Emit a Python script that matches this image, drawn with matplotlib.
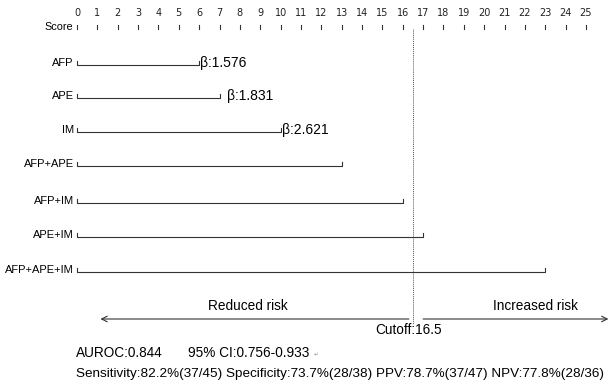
import matplotlib
matplotlib.use("Agg")
import matplotlib.pyplot as plt

plt.rcParams['font.family'] = ['Liberation Sans', 'DejaVu Sans']

# ---- data ----
score_ticks = list(range(0, 26))
rows = ["AFP", "APE", "IM", "AFP+APE", "AFP+IM", "APE+IM", "AFP+APE+IM"]
row_scores = [6, 7, 10, 13, 16, 17, 23]
beta_labels = ["β:1.576", "β:1.831", "β:2.621"]
cutoff = 16.5
auroc_text = "AUROC:0.844"
ci_text = "95% CI:0.756-0.933"
metrics_text = "Sensitivity:82.2%(37/45) Specificity:73.7%(28/38) PPV:78.7%(37/47) NPV:77.8%(28/36)"

# ---- layout ----
W, H = 611, 387
px_per_unit = (586 - 77) / 25.0
x0px = 77
fig = plt.figure(figsize=(W / 100, H / 100), dpi=100)
ax = fig.add_axes([0, 0, 1, 1])
ax.set_xlim(-x0px / px_per_unit, (W - x0px) / px_per_unit)
ax.set_ylim(H, 0)
ax.axis("off")

lw = 0.8
col = "#333333"
tick_h = 4

# score axis
axis_y = 29
ax.annotate("", xy=(26.3, axis_y), xytext=(0, axis_y),
            arrowprops=dict(arrowstyle="->", color=col, lw=lw, shrinkA=0, shrinkB=0))
for t in score_ticks:
    ax.plot([t, t], [axis_y, axis_y - tick_h], color=col, lw=lw)
    ax.text(t, 13, str(t), ha="center", va="center", fontsize=7,
            family="DejaVu Sans", color="#222222")
ax.text(-0.2, 26.5, "Score", ha="right", va="center", fontsize=7.8)

# rows
row_y = [65, 98, 132, 166, 203, 237, 272]
for i, (name, s, y) in enumerate(zip(rows, row_scores, row_y)):
    ax.plot([0, 0, s, s], [y - tick_h, y, y, y - tick_h], color=col, lw=lw)
    ax.text(-0.15, y - 2, name, ha="right", va="center", fontsize=8)
    if i < len(beta_labels):
        off = [0.05, 0.35, 0.05][i]
        ax.text(s + off, y - 2, beta_labels[i], ha="left", va="center", fontsize=10)

# cutoff line
ax.plot([cutoff, cutoff], [axis_y, 324], color="#555555", lw=0.7, ls=(0, (1, 1)))

# bottom arrows
arr_y = 319
ax.annotate("", xy=(1.15, arr_y), xytext=(16.3, arr_y),
            arrowprops=dict(arrowstyle="->", color=col, lw=lw, shrinkA=0, shrinkB=0))
ax.annotate("", xy=(26.1, arr_y), xytext=(17.0, arr_y),
            arrowprops=dict(arrowstyle="->", color=col, lw=lw, shrinkA=0, shrinkB=0))
ax.text(8.4, 306, "Reduced risk", ha="center", va="center", fontsize=9.8)
ax.text(22.5, 306, "Increased risk", ha="center", va="center", fontsize=9.8)
ax.text(cutoff - 0.2, 330, "Cutoff:16.5", ha="center", va="center", fontsize=9.8)

ax.text(-0.05, 353, auroc_text, ha="left", va="center", fontsize=9.8)
ax.text(5.45, 353, ci_text, ha="left", va="center", fontsize=9.8)
ax.text(11.65, 355, "↵", ha="left", va="center", fontsize=4, color="#999999",
        family="DejaVu Sans")
ax.text(-0.05, 374, metrics_text, ha="left", va="center", fontsize=9.7)

fig.savefig("out.png", dpi=100)
